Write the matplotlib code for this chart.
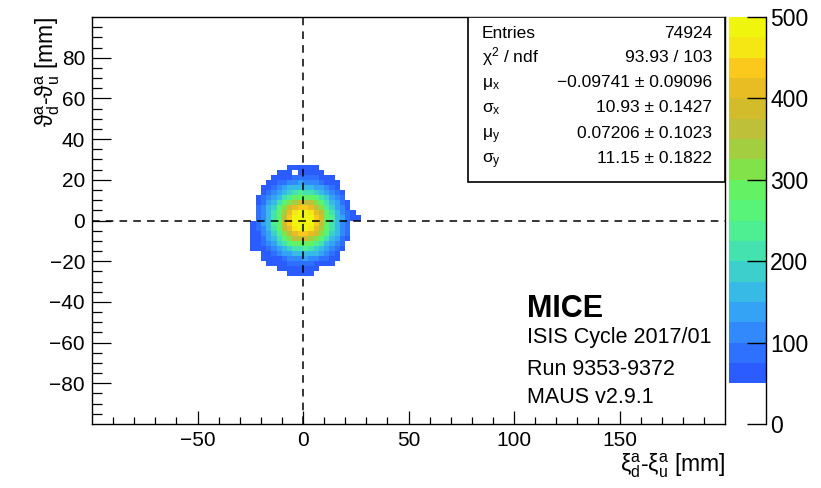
import numpy as np
import matplotlib
matplotlib.use("Agg")
import matplotlib.pyplot as plt
from matplotlib.colors import ListedColormap, BoundaryNorm
from matplotlib.patches import Rectangle

plt.rcParams['font.family'] = ['Liberation Sans', 'DejaVu Sans']
plt.rcParams['mathtext.fontset'] = 'custom'
plt.rcParams['mathtext.rm'] = 'Liberation Sans'
plt.rcParams['mathtext.it'] = 'Liberation Sans:italic'
plt.rcParams['mathtext.bf'] = 'Liberation Sans:bold'

# ---- histogram binning (mm) ----
bin_width = 2.5
x_low, x_high = -27.5, 27.5
y_low, y_high = -27.5, 27.5

# ---- bin contents, rows from top (y = +27.5) to bottom (y = -27.5),
#      columns from left (x = -27.5) to right (x = +27.5) ----
counts = [
    [11, 13, 16, 19, 22, 26, 30, 34, 52, 56, 58, 55, 57, 53, 34, 30, 26, 22, 19, 16, 13, 11],
    [13, 16, 20, 24, 29, 35, 52, 55, 60, 44, 63, 61, 59, 57, 53, 40, 35, 29, 24, 20, 16, 13],
    [16, 20, 25, 31, 39, 53, 58, 68, 71, 84, 90, 83, 79, 77, 62, 59, 52, 39, 31, 25, 20, 16],
    [19, 24, 31, 40, 54, 64, 75, 95, 104, 119, 125, 118, 120, 103, 95, 74, 65, 53, 40, 31, 24, 19],
    [22, 29, 39, 53, 67, 83, 110, 125, 150, 158, 172, 166, 165, 144, 131, 104, 88, 63, 46, 39, 29, 22],
    [26, 35, 47, 60, 89, 108, 143, 166, 196, 209, 226, 220, 215, 190, 172, 137, 114, 83, 64, 47, 35, 26],
    [30, 40, 55, 79, 104, 143, 174, 215, 246, 282, 292, 298, 276, 252, 209, 180, 137, 110, 75, 46, 40, 30],
    [34, 46, 67, 90, 131, 166, 215, 261, 313, 344, 376, 370, 350, 307, 267, 209, 172, 125, 94, 63, 47, 34],
    [38, 47, 76, 104, 150, 190, 252, 307, 376, 414, 443, 437, 420, 370, 313, 246, 196, 144, 109, 72, 47, 38],
    [40, 47, 83, 113, 165, 209, 282, 344, 420, 460, 488, 482, 466, 414, 350, 276, 215, 159, 119, 79, 57, 40],
    [41, 47, 88, 119, 172, 220, 298, 370, 443, 482, 506, 500, 488, 437, 376, 292, 226, 166, 125, 84, 60, 54],
    [41, 58, 84, 125, 166, 226, 292, 376, 437, 488, 500, 509, 482, 443, 370, 298, 220, 172, 119, 88, 48, 41],
    [40, 56, 79, 119, 159, 215, 276, 350, 414, 466, 482, 488, 460, 420, 344, 282, 209, 165, 113, 83, 47, 40],
    [38, 53, 72, 109, 144, 196, 246, 313, 370, 420, 437, 443, 414, 376, 307, 252, 190, 150, 104, 76, 47, 38],
    [34, 52, 63, 94, 125, 172, 209, 267, 307, 350, 370, 376, 344, 313, 261, 215, 166, 131, 90, 67, 46, 34],
    [30, 51, 56, 75, 110, 137, 180, 209, 252, 276, 298, 292, 282, 246, 215, 174, 143, 104, 79, 46, 40, 30],
    [26, 52, 55, 64, 83, 114, 137, 172, 190, 215, 220, 226, 209, 196, 166, 143, 108, 89, 60, 47, 35, 26],
    [22, 29, 39, 51, 63, 88, 104, 131, 144, 165, 166, 172, 158, 150, 125, 110, 83, 67, 46, 39, 29, 22],
    [19, 24, 31, 52, 53, 65, 74, 95, 103, 120, 118, 125, 119, 104, 95, 75, 64, 54, 40, 31, 24, 19],
    [16, 20, 25, 31, 51, 55, 59, 62, 77, 79, 83, 90, 84, 71, 68, 58, 53, 39, 31, 25, 20, 16],
    [13, 16, 20, 24, 29, 35, 51, 55, 57, 59, 61, 63, 60, 53, 48, 40, 35, 29, 24, 20, 16, 13],
    [11, 13, 16, 19, 22, 26, 30, 34, 53, 55, 57, 54, 52, 38, 34, 30, 26, 22, 19, 16, 13, 11],
]

# ---- colour scale ----
z_min_drawn = 50
z_levels = [0, 50, 75, 100, 125, 150, 175, 200, 225, 250, 275, 300,
            325, 350, 375, 400, 425, 450, 475, 500]
z_colors = ['#ffffff',
            '#2b5cff', '#2e70ff', '#3189fb', '#35a3f5', '#38bae6', '#3ccfcc',
            '#44e2ae', '#4eef92', '#58f47a', '#64f164', '#82e24a', '#a2ce40',
            '#bdc038', '#d2bc2c', '#e8bd24', '#fbc91c', '#f5e714', '#eff50c']

# ---- stat box ----
stat_labels = ['Entries', r'$\mathregular{\chi^{2}}$ / ndf', r'$\mathregular{\mu_{x}}$',
               r'$\mathregular{\sigma_{x}}$', r'$\mathregular{\mu_{y}}$', r'$\mathregular{\sigma_{y}}$']
stat_values = ['74924', '93.93 / 103', '\u22120.09741 \u00b1 0.09096', '10.93 \u00b1 0.1427',
               '0.07206 \u00b1 0.1023', '11.15 \u00b1 0.1822']

info_title = 'MICE'
info_lines = ['ISIS Cycle 2017/01', 'Run 9353-9372', 'MAUS v2.9.1']

x_major = [-50, 0, 50, 100, 150]
y_major = [-80, -60, -40, -20, 0, 20, 40, 60, 80]
cbar_ticks = [0, 100, 200, 300, 400, 500]

W, H = 821, 488
fig = plt.figure(figsize=(W / 100, H / 100), dpi=100)

def fx(px):
    return px / W

def fy(py):
    return 1 - py / H

ax_l, ax_r, ax_t, ax_b = 92, 725, 17, 424
ax = fig.add_axes([fx(ax_l), fy(ax_b), fx(ax_r - ax_l), (ax_b - ax_t) / H])

cmap = ListedColormap(z_colors)
cmap.set_over(z_colors[-1])
norm = BoundaryNorm(z_levels, cmap.N)

x_edges = np.arange(x_low, x_high + bin_width / 2, bin_width)
y_edges = np.arange(y_low, y_high + bin_width / 2, bin_width)
z = np.flipud(np.array(counts, dtype=float))
z = np.ma.masked_less(z, z_min_drawn)
mesh = ax.pcolormesh(x_edges, y_edges, z, cmap=cmap, norm=norm, shading='flat', zorder=1)

ax.set_xlim(-100, 200)
ax.set_ylim(-100, 100)

# dashed reference lines through the origin
ax.axhline(0, color='black', lw=1.1, ls=(0, (5, 4)), zorder=3)
ax.axvline(0, color='black', lw=1.1, ls=(0, (5, 4)), zorder=3)

ax.set_xticks(x_major)
ax.set_xticks(np.arange(-90, 200, 10), minor=True)
ax.set_yticks(y_major)
ax.set_yticks(np.arange(-95, 100, 5), minor=True)
ax.set_xticklabels([f'{v:d}'.replace('-', '\u2212') for v in x_major])
ax.set_yticklabels([f'{v:d}'.replace('-', '\u2212') for v in y_major])
ax.tick_params(axis='x', which='major', direction='in', length=9.5, width=0.9,
               labelsize=15, pad=5, top=False)
ax.tick_params(axis='x', which='minor', direction='in', length=4.8, width=0.9, top=False)
ax.tick_params(axis='y', which='major', direction='in', length=14, width=0.9,
               labelsize=15, pad=5, right=False)
ax.tick_params(axis='y', which='minor', direction='in', length=7, width=0.9, right=False)
for s in ax.spines.values():
    s.set_linewidth(1.0)

# stat box
bx0 = (468 - ax_l) / (ax_r - ax_l)
by0 = (ax_b - 182) / (ax_b - ax_t)
ax.add_patch(Rectangle((bx0, by0), 1 - bx0, 1 - by0, transform=ax.transAxes,
                       facecolor='white', edgecolor='black', lw=1.2, zorder=5))
row_baselines = [37.5, 62.5, 87, 112, 138, 163]
for lab, val, b in zip(stat_labels, stat_values, row_baselines):
    yb = (ax_b - b) / (ax_b - ax_t)
    ax.text((482 - ax_l) / (ax_r - ax_l), yb, lab, transform=ax.transAxes,
            ha='left', va='baseline', fontsize=12.5, zorder=6)
    ax.text((712 - ax_l) / (ax_r - ax_l), yb, val, transform=ax.transAxes,
            ha='right', va='baseline', fontsize=12.5, zorder=6)

# run information
fig.text(fx(527), fy(317), info_title, fontsize=22, fontweight='bold', va='baseline')
for line, b in zip(info_lines, [343, 375, 403]):
    fig.text(fx(527), fy(b), line, fontsize=15.5, va='baseline')

# axis titles
fig.text(fx(725), fy(471), r'$\mathregular{\xi^{a}_{d}}$-$\mathregular{\xi^{a}_{u}}$ [mm]',
         ha='right', va='baseline', fontsize=16.5)
fig.text(fx(33), fy(17), r'$\mathregular{\vartheta^{a}_{d}}$-$\mathregular{\vartheta^{a}_{u}}$ [mm]',
         ha='right', va='top', rotation=90, rotation_mode='anchor', fontsize=16.5)

# colour bar
cax = fig.add_axes([fx(729), fy(ax_b), fx(766 - 729), (ax_b - ax_t) / H])
cb = fig.colorbar(mesh, cax=cax, spacing='proportional', extend='neither')
cb.outline.set_visible(False)
cb.set_ticks(cbar_ticks)
cb.set_ticklabels([str(t) for t in cbar_ticks])
cax.tick_params(axis='y', which='both', direction='in', length=14, width=1.0,
                labelsize=16.5, pad=3, right=True, left=False)
cax.minorticks_off()
cax.plot([1, 1], [0, 1], color='black', lw=1.0, transform=cax.transAxes, clip_on=False)

fig.savefig('out.png', dpi=100)
